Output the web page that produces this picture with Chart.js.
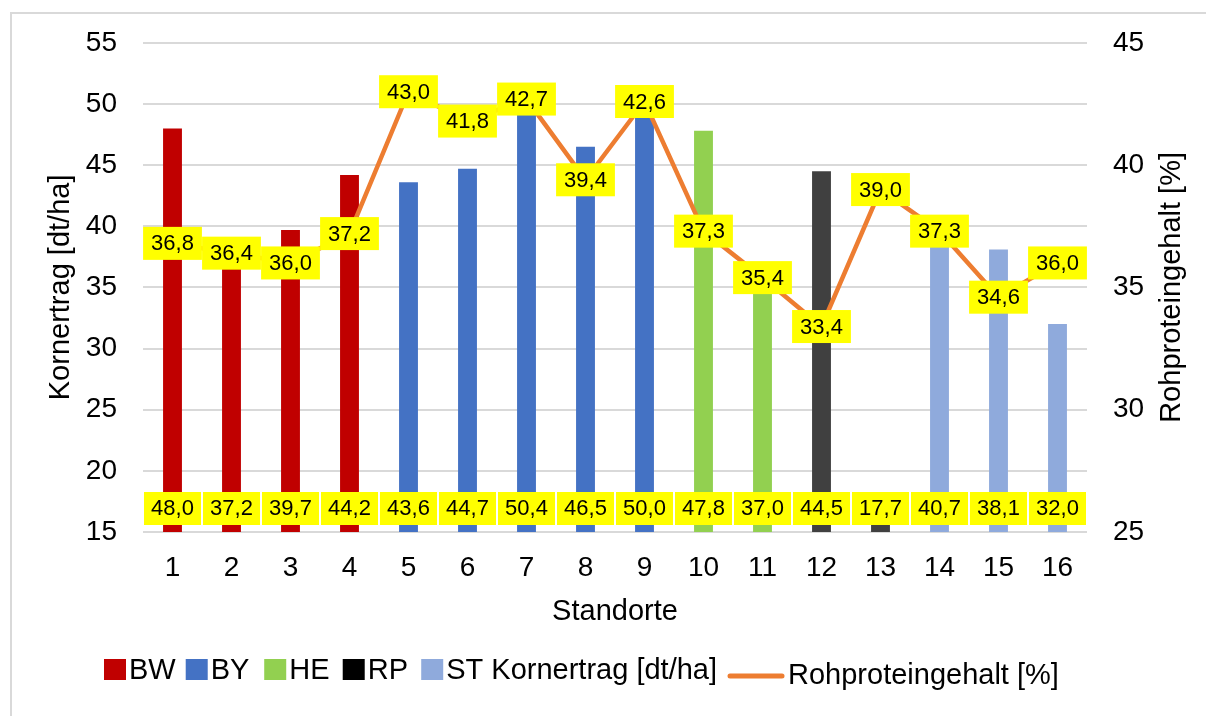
<!DOCTYPE html>
<html lang="de">
<head>
  <meta charset="UTF-8">
  <title>Kornertrag und Rohproteingehalt</title>
  <style>
    body { margin: 0; background: #fff; }
    #wrap { position: relative; width: 1206px; height: 716px; }
  </style>
  <script src="https://cdn.jsdelivr.net/npm/chart.js"></script>
</head>
<body>
  <div id="wrap"><canvas id="myChart" width="1206" height="716"></canvas></div>

  <script>
    // Daten
    const standorte = ['1', '2', '3', '4', '5', '6', '7', '8', '9', '10', '11', '12', '13', '14', '15', '16'];
    const laender = ['BW', 'BW', 'BW', 'BW', 'BY', 'BY', 'BY', 'BY', 'BY', 'HE', 'HE', 'RP', 'RP', 'ST', 'ST', 'ST'];
    const kornertrag = [48.0, 37.2, 39.7, 44.2, 43.6, 44.7, 50.4, 46.5, 50.0, 47.8, 37.0, 44.5, 17.7, 40.7, 38.1, 32.0];
    const rohprotein = [36.8, 36.4, 36.0, 37.2, 43.0, 41.8, 42.7, 39.4, 42.6, 37.3, 35.4, 33.4, 39.0, 37.3, 34.6, 36.0];
    const ertragTicks = [15, 55];   // min / max linke Achse
    const proteinTicks = [25, 45];  // min / max rechte Achse

    // Farben je Bundesland
    const landFarbe = { BW: '#C00000', BY: '#4472C4', HE: '#92D050', RP: '#404040', ST: '#8FAADC' };
    const legendFarbe = { BW: '#C00000', BY: '#4472C4', HE: '#92D050', RP: '#000000', ST: '#8FAADC' };
    const linienFarbe = '#ED7D31';
    const FONT = "'Liberation Sans', Arial, sans-serif";

    Chart.defaults.font.family = FONT;
    Chart.defaults.color = '#000';

    const fmt = v => v.toFixed(1).replace('.', ',');

    // Rahmen um das Diagramm
    const rahmenPlugin = {
      id: 'rahmen',
      beforeDraw(chart) {
        const c = chart.ctx;
        c.save();
        c.fillStyle = '#fff';
        c.fillRect(0, 0, chart.width, chart.height);
        c.strokeStyle = '#d9d9d9';
        c.lineWidth = 2;
        c.strokeRect(11, 13, chart.width + 20, chart.height + 20);
        c.restore();
      }
    };

    // gelbe Datenbeschriftungen
    const labelPlugin = {
      id: 'gelbeLabels',
      afterDatasetsDraw(chart) {
        const c = chart.ctx;
        const xs = chart.scales.x;
        const catW = (xs.right - xs.left) / standorte.length;
        const basis = chart.scales.y.getPixelForValue(ertragTicks[0]);
        c.save();
        c.font = '22px ' + FONT;
        c.textAlign = 'center';
        c.textBaseline = 'middle';

        // Säulenwerte am Fuß
        const barMeta = chart.getDatasetMeta(1);
        barMeta.data.forEach((el, i) => {
          const top = basis - 40;
          c.fillStyle = '#FFFF00';
          c.fillRect(el.x - catW / 2 + 1, top, catW - 2, 33);
          c.fillStyle = '#000';
          c.fillText(fmt(kornertrag[i]), el.x, top + 17);
        });

        // Linienwerte
        const lineMeta = chart.getDatasetMeta(0);
        lineMeta.data.forEach((pt, i) => {
          const txt = fmt(rohprotein[i]);
          const w = c.measureText(txt).width + 16;
          c.fillStyle = '#FFFF00';
          c.fillRect(pt.x - w / 2, pt.y - 16.5, w, 33);
          c.fillStyle = '#000';
          c.fillText(txt, pt.x, pt.y + 1);
        });
        c.restore();
      }
    };

    // Titel rechte Achse + Legende
    const extrasPlugin = {
      id: 'extras',
      afterDraw(chart) {
        const c = chart.ctx;
        const area = chart.chartArea;
        c.save();
        c.fillStyle = '#000';
        c.font = '29px ' + FONT;
        c.textAlign = 'center';
        c.textBaseline = 'middle';
        c.translate(area.right + 85, (area.top + area.bottom) / 2);
        c.rotate(-Math.PI / 2);
        c.fillText('Rohproteingehalt [%]', 0, 0);
        c.restore();

        // Legende
        c.save();
        c.font = '29px ' + FONT;
        c.textBaseline = 'middle';
        c.textAlign = 'left';
        const gruppen = [...new Set(laender)];
        let x = 104;
        const y = 670;
        gruppen.forEach((g, i) => {
          const txt = i === gruppen.length - 1 ? g + ' Kornertrag [dt/ha]' : g;
          c.fillStyle = legendFarbe[g];
          c.fillRect(x, y - 11, 22, 21);
          c.fillStyle = '#000';
          c.fillText(txt, x + 25, y + 1);
          x += Math.max(78.5, 25 + c.measureText(txt).width + 10);
        });
        const ly = 676;
        c.strokeStyle = linienFarbe;
        c.lineWidth = 5;
        c.lineCap = 'round';
        c.beginPath();
        c.moveTo(x + 3, ly);
        c.lineTo(x + 55, ly);
        c.stroke();
        c.fillStyle = '#000';
        c.fillText('Rohproteingehalt [%]', x + 61, ly);
        c.restore();
      }
    };

    const ctx = document.getElementById('myChart').getContext('2d');
    const myChart = new Chart(ctx, {
      data: {
        labels: standorte,
        datasets: [
          {
            type: 'line',
            label: 'Rohproteingehalt [%]',
            data: rohprotein,
            yAxisID: 'y1',
            borderColor: linienFarbe,
            backgroundColor: linienFarbe,
            borderWidth: 4.5,
            pointRadius: 0,
            tension: 0,
            order: 0
          },
          {
            type: 'bar',
            label: 'Kornertrag [dt/ha]',
            data: kornertrag,
            yAxisID: 'y',
            backgroundColor: laender.map(l => landFarbe[l]),
            barPercentage: 0.32,
            categoryPercentage: 1,
            order: 1
          }
        ]
      },
      options: {
        responsive: false,
        animation: false,
        layout: { padding: { top: 42, bottom: 84, left: 0, right: 0 } },
        plugins: {
          legend: { display: false },
          tooltip: { enabled: false }
        },
        scales: {
          x: {
            offset: true,
            grid: { display: false },
            border: { display: false },
            ticks: { font: { size: 28 }, padding: 11 },
            title: { display: true, text: 'Standorte', font: { size: 29 }, padding: { top: 0, bottom: 3 } },
            afterFit(scale) { scale.height = 100; }
          },
          y: {
            position: 'left',
            min: ertragTicks[0],
            max: ertragTicks[1],
            ticks: { stepSize: 5, font: { size: 28 }, padding: 26 },
            grid: { color: '#d9d9d9', lineWidth: 2, drawTicks: false },
            border: { display: false },
            title: { display: true, text: 'Kornertrag [dt/ha]', font: { size: 29 }, padding: { top: 44, bottom: 0 } },
            afterFit(scale) { scale.width = 143; }
          },
          y1: {
            position: 'right',
            min: proteinTicks[0],
            max: proteinTicks[1],
            ticks: { stepSize: 5, font: { size: 28 }, padding: 26 },
            grid: { drawOnChartArea: false, drawTicks: false },
            border: { display: false },
            afterFit(scale) { scale.width = 119; }
          }
        }
      },
      plugins: [rahmenPlugin, labelPlugin, extrasPlugin]
    });
  </script>
</body>
</html>
